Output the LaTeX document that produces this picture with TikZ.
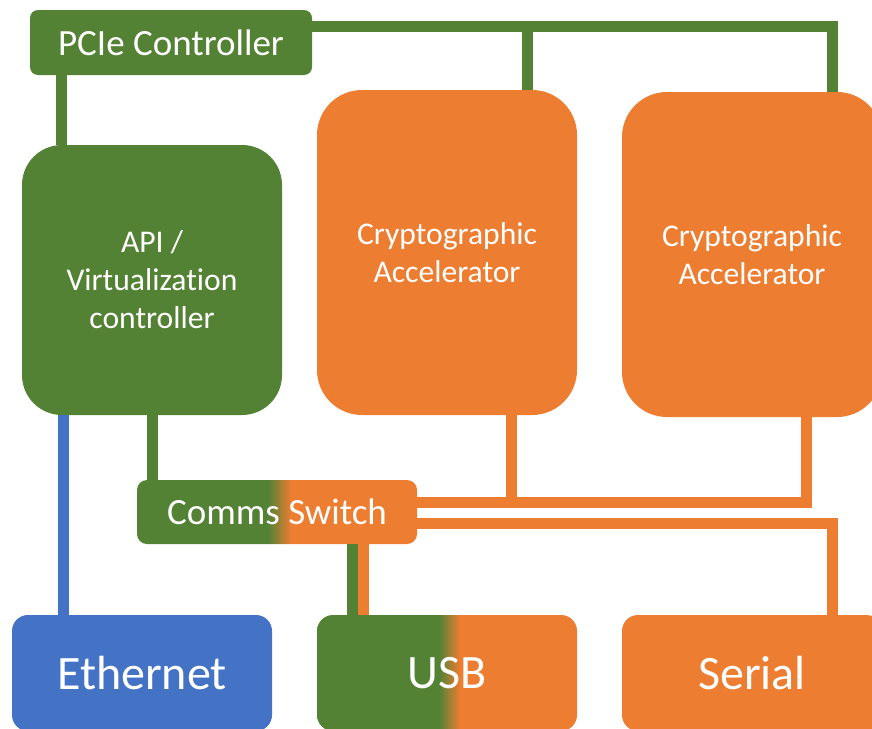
\documentclass[tikz,border=0pt]{standalone}
\usepackage{fontspec}
\setmainfont[Ligatures=NoCommon]{Carlito}
\definecolor{accgreen}{HTML}{548235}
\definecolor{accorange}{HTML}{ED7D31}
\definecolor{accblue}{HTML}{4472C4}
% green-to-orange blend; the path's bounding box maps onto 25bp..75bp
\pgfdeclarehorizontalshading{greentoorange}{100bp}{color(0bp)=(accgreen); color(48.5bp)=(accgreen); color(52.5bp)=(accorange); color(100bp)=(accorange)}
\begin{document}
\begin{tikzpicture}[x=1pt,y=-1pt,
  block/.style={inner sep=0pt, text=white, align=center},
  gblock/.style={block, fill=accgreen},
  oblock/.style={block, fill=accorange},
  bblock/.style={block, fill=accblue},
  mixblock/.style={block, shading=greentoorange},
  smalltxt/.style={font=\fontsize{37}{44}\selectfont},
  midtxt/.style={font=\fontsize{31.6}{38}\selectfont},
  bigtxt/.style={font=\fontsize{48}{56}\selectfont},
  glink/.style={line width=11pt, draw=accgreen},
  olink/.style={line width=11pt, draw=accorange},
  blink/.style={line width=11pt, draw=accblue}]
\useasboundingbox (0,0) rectangle (872,728);

% blocks
\node[gblock, smalltxt, rounded corners=8pt, minimum width=282pt, minimum height=65pt] (pcie) at (171,42.5) {PCIe Controller};
\node[gblock, midtxt, rounded corners=40pt, minimum width=260pt, minimum height=270pt] (api) at (152,280) {API /\\Virtualization\\controller};
\node[oblock, midtxt, rounded corners=45pt, minimum width=260pt, minimum height=325pt] (cr1) at (447,252.5) {Cryptographic\\Accelerator};
\node[oblock, midtxt, rounded corners=45pt, minimum width=260pt, minimum height=325pt] (cr2) at (752,254.5) {Cryptographic\\Accelerator};
\node[mixblock, smalltxt, rounded corners=10pt, minimum width=280pt, minimum height=64pt] (comms) at (277,512) {Comms Switch};
\node[bblock, bigtxt, rounded corners=16pt, minimum width=260pt, minimum height=116pt] (eth) at (142,673) {Ethernet};
\node[mixblock, bigtxt, rounded corners=16pt, minimum width=260pt, minimum height=116pt] (usb) at (447,673) {USB};
\node[oblock, bigtxt, rounded corners=16pt, minimum width=260pt, minimum height=116pt] (serial) at (752,673) {Serial};

% PCIe bus
\draw[glink] ([yshift=16pt]pcie.east) -| ([xshift=80pt]cr2.north);
\coordinate (tap1) at (527,26.5);
\draw[glink] (tap1) -- (tap1 |- cr1.north);
\draw[glink] ([xshift=-110pt]pcie.south) -- ([xshift=-110pt]pcie.south |- api.north);

% controller links
\draw[glink] (api.south) -- (api.south |- comms.north);
\draw[blink] ([xshift=-89pt]api.south) -- ([xshift=-89pt]api.south |- eth.north);

% switch fabric
\draw[olink] ([yshift=10pt]comms.east) -| ([xshift=54pt]cr2.south);
\coordinate (tap2) at (511,502);
\draw[olink] (cr1.south -| tap2) -- (tap2);
\draw[olink] ([yshift=-11pt]comms.east) -| ([xshift=80pt]serial.north);
\draw[glink] ([xshift=75pt]comms.south) -- ([xshift=75pt]comms.south |- usb.north);
\draw[olink] ([xshift=86pt]comms.south) -- ([xshift=86pt]comms.south |- usb.north);
\end{tikzpicture}
\end{document}
